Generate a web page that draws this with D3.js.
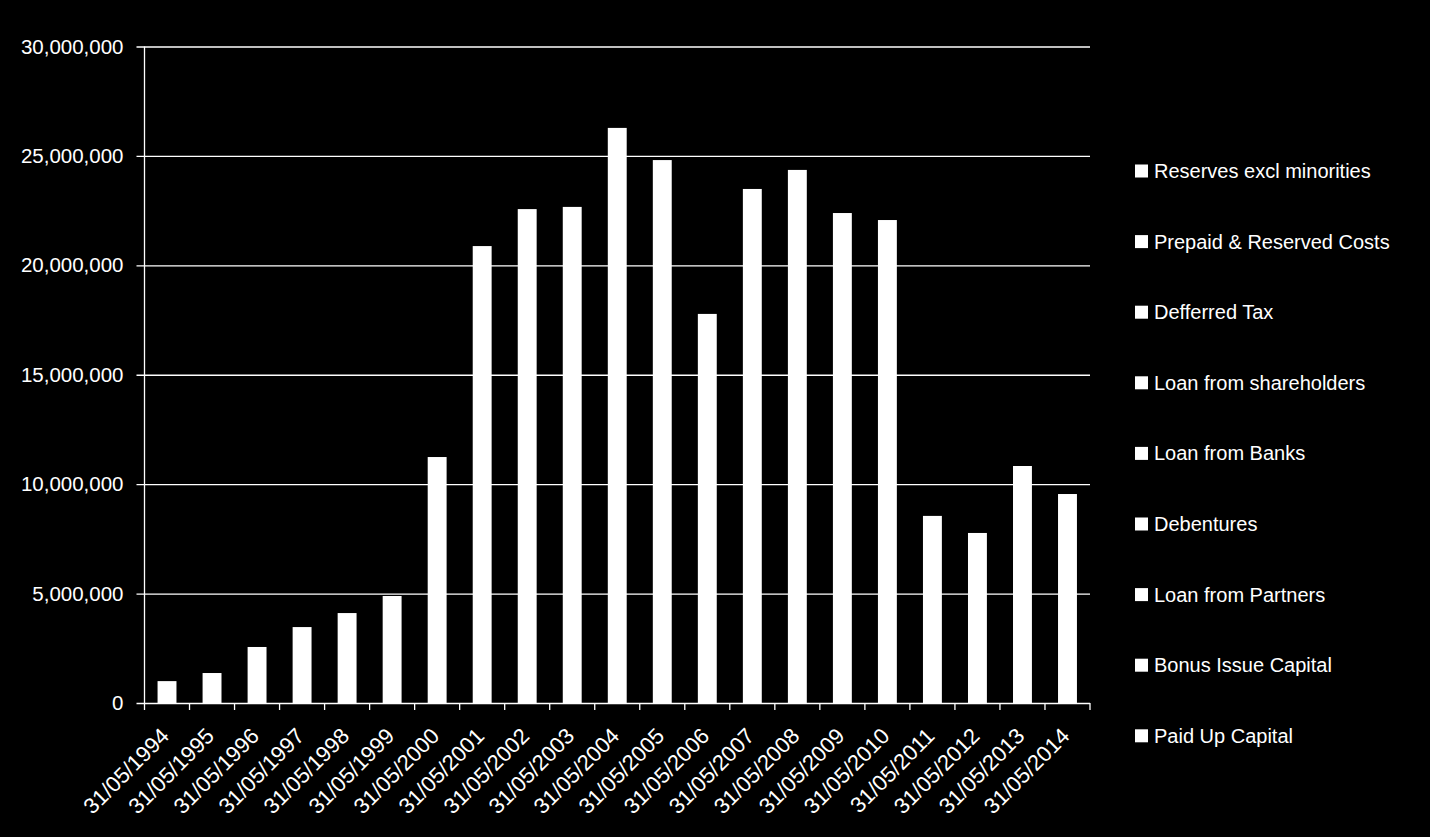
<!DOCTYPE html>
<html>
<head>
<meta charset="utf-8">
<script src="https://cdn.jsdelivr.net/npm/d3@7"></script>
<style>
  html, body { margin: 0; padding: 0; background: #000; }
  svg { display: block; }
  text { font-family: "Liberation Sans", Arial, sans-serif; fill: #fff; }
</style>
</head>
<body>
<svg id="chart"></svg>
<script>
const width = 1430, height = 837;

// categories (year end dates)
const dates = [
  "31/05/1994", "31/05/1995", "31/05/1996", "31/05/1997", "31/05/1998",
  "31/05/1999", "31/05/2000", "31/05/2001", "31/05/2002", "31/05/2003",
  "31/05/2004", "31/05/2005", "31/05/2006", "31/05/2007", "31/05/2008",
  "31/05/2009", "31/05/2010", "31/05/2011", "31/05/2012", "31/05/2013",
  "31/05/2014"
];

// total capital employed per year
const totals = [
  1000000, 1370000, 2560000, 3470000, 4110000,
  4890000, 11240000, 20880000, 22570000, 22670000,
  26280000, 24810000, 17780000, 23490000, 24360000,
  22390000, 22070000, 8550000, 7770000, 10830000,
  9550000
];

// legend entries, top to bottom
const seriesNames = [
  "Reserves excl minorities",
  "Prepaid & Reserved Costs",
  "Defferred Tax",
  "Loan from shareholders",
  "Loan from Banks",
  "Debentures",
  "Loan from Partners",
  "Bonus Issue Capital",
  "Paid Up Capital"
];

const yTicks = [0, 5000000, 10000000, 15000000, 20000000, 25000000, 30000000];

const margin = { top: 46.5, right: 340, bottom: 134, left: 144.5 };

const svg = d3.select("#chart").attr("width", width).attr("height", height);

const x = d3.scaleBand()
  .domain(dates)
  .range([margin.left, width - margin.right])
  .paddingInner(0.58)
  .paddingOuter(0.29);

const y = d3.scaleLinear()
  .domain([0, 30000000])
  .range([height - margin.bottom, margin.top]);

const fmt = d3.format(",");

// gridlines + y labels
const yAxis = svg.append("g")
  .attr("transform", "translate(" + margin.left + ",0)")
  .call(d3.axisLeft(y)
    .tickValues(yTicks)
    .tickFormat(fmt)
    .tickSize(-(width - margin.right - margin.left))
    .tickSizeOuter(0)
    .tickPadding(21));

yAxis.select(".domain").remove();
yAxis.selectAll(".tick line")
  .attr("x1", -8)
  .attr("stroke", "#fff")
  .attr("stroke-width", 1.3);
yAxis.selectAll(".tick text")
  .attr("font-size", 20.5)
  .attr("fill", "#fff");

// vertical axis line
svg.append("line")
  .attr("x1", margin.left).attr("x2", margin.left)
  .attr("y1", y(30000000)).attr("y2", y(0))
  .attr("stroke", "#fff")
  .attr("stroke-width", 1.3);

// bars
svg.append("g")
  .selectAll("rect")
  .data(totals)
  .join("rect")
  .attr("x", (d, i) => x(dates[i]))
  .attr("width", x.bandwidth())
  .attr("y", d => y(d))
  .attr("height", d => y(0) - y(d))
  .attr("fill", "#fff");

// x axis ticks at category boundaries
const step = x.step();
const boundaries = dates.map((d, i) => margin.left + i * step).concat([width - margin.right]);
svg.append("g")
  .selectAll("line")
  .data(boundaries)
  .join("line")
  .attr("x1", d => d).attr("x2", d => d)
  .attr("y1", y(0)).attr("y2", y(0) + 7)
  .attr("stroke", "#fff")
  .attr("stroke-width", 1.3);

// rotated category labels
svg.append("g")
  .selectAll("text")
  .data(dates)
  .join("text")
  .attr("transform", d => "translate(" + (x(d) + x.bandwidth() / 2 - 2) + "," + (y(0) + 29) + ") rotate(-45)")
  .attr("text-anchor", "end")
  .attr("dy", "0.35em")
  .attr("font-size", 22)
  .text(d => d);

// legend
const legend = svg.append("g")
  .selectAll("g")
  .data(seriesNames)
  .join("g")
  .attr("transform", (d, i) => "translate(1135," + (171 + i * 70.6) + ")");

legend.append("rect")
  .attr("x", 0).attr("y", -6.5)
  .attr("width", 13).attr("height", 13)
  .attr("fill", "#fff");

legend.append("text")
  .attr("x", 19)
  .attr("dy", "0.35em")
  .attr("font-size", 20)
  .text(d => d);
</script>
</body>
</html>
